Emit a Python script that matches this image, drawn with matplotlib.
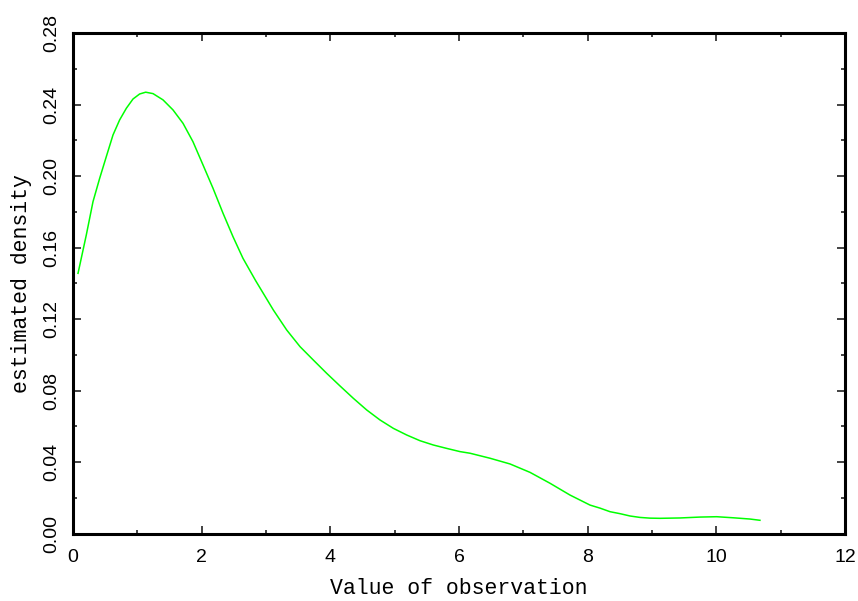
import matplotlib
matplotlib.use("Agg")
import matplotlib.pyplot as plt
from matplotlib.ticker import MultipleLocator

# values
obs_value = [0.078, 0.207, 0.311, 0.415, 0.518, 0.622, 0.725, 0.829, 0.933, 1.036,
             1.130, 1.244, 1.399, 1.554, 1.710, 1.865, 2.021, 2.176, 2.332, 2.487,
             2.642, 2.839, 3.114, 3.322, 3.529, 3.736, 3.943, 4.151, 4.358,
             4.565, 4.772, 4.980, 5.187, 5.394, 5.601, 5.809, 6.016, 6.171, 6.482,
             6.793, 7.104, 7.415, 7.726, 8.037, 8.192, 8.348, 8.503, 8.659, 8.814,
             8.969, 9.125, 9.436, 9.746, 10.005, 10.264, 10.523, 10.678]
density = [0.1456, 0.1671, 0.1857, 0.1988, 0.2109, 0.2230, 0.2314, 0.2379, 0.2431, 0.2459,
           0.2469, 0.2461, 0.2426, 0.2370, 0.2295, 0.2192, 0.2062, 0.1932, 0.1792, 0.1661,
           0.1540, 0.1415, 0.1251, 0.1139, 0.1046, 0.0971, 0.0897, 0.0826, 0.0757,
           0.0692, 0.0636, 0.0589, 0.0552, 0.0520, 0.0496, 0.0477, 0.0459, 0.0450, 0.0422,
           0.0390, 0.0343, 0.0282, 0.0216, 0.0160, 0.0143, 0.0123, 0.0112, 0.0099, 0.0091,
           0.0087, 0.0086, 0.0088, 0.0093, 0.0095, 0.0089, 0.0082, 0.0075]

x_ticks = [0, 2, 4, 6, 8, 10, 12]
y_ticks = [0.00, 0.04, 0.08, 0.12, 0.16, 0.20, 0.24, 0.28]

fig = plt.figure(figsize=(8.58, 6.01), dpi=100)
ax = fig.add_axes([73/858, 67.3/601, 772/858, 500.7/601])

ax.plot(obs_value, density, color="#00ff00", lw=1.1)

ax.set_xlim(0, 12)
ax.set_ylim(0, 0.28)
ax.set_xticks(x_ticks)
ax.set_yticks(y_ticks)
ax.xaxis.set_minor_locator(MultipleLocator(1))
ax.yaxis.set_minor_locator(MultipleLocator(0.02))
ax.set_xticklabels([str(t) for t in x_ticks], family="Liberation Sans", fontsize=14)
ax.set_yticklabels(["%.2f" % t for t in y_ticks], family="Liberation Sans", fontsize=14,
                   rotation=90, va="center")

ax.tick_params(which="both", direction="in", top=True, right=True, width=1.2, color="#222222")
ax.tick_params(which="major", length=5.8)
ax.tick_params(which="minor", length=2.9)
ax.tick_params(axis="x", pad=11)
ax.tick_params(axis="y", pad=9)

for s in ax.spines.values():
    s.set_linewidth(2.2)

ax.set_xlabel("Value of observation", family="Liberation Mono", fontsize=15.5, labelpad=9)
ax.set_ylabel("estimated density", family="Liberation Mono", fontsize=15.5, labelpad=8)

fig.savefig("out.png", dpi=100)
